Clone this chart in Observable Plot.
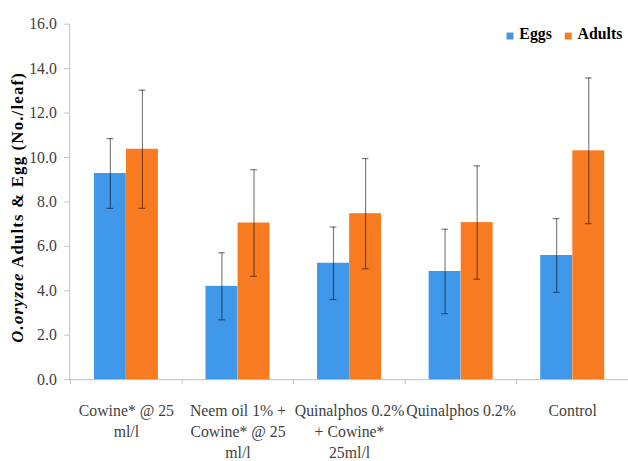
<!DOCTYPE html>
<html>
<head>
<meta charset="utf-8">
<script src="https://cdn.jsdelivr.net/npm/d3@7"></script>
<script src="https://cdn.jsdelivr.net/npm/@observablehq/plot@0.6"></script>
<style>
  html, body { margin: 0; padding: 0; background: #fff; }
  #wrap { width: 628px; height: 461px; overflow: hidden; position: relative; background: #fff; }
</style>
</head>
<body>
<div id="wrap"></div>
<script>
// ---- data ----
const categories = ["Cowine", "Neem+Cowine", "Quinalphos+Cowine", "Quinalphos", "Control"];
const tickLabels = [
  "Cowine* @ 25\nml/l",
  "Neem oil 1% +\nCowine* @ 25\nml/l",
  "Quinalphos 0.2%\n+ Cowine*\n25ml/l",
  "Quinalphos 0.2%",
  "Control"
];
const eggs      = [9.28, 4.2, 5.24, 4.87, 5.59];
const eggsErr   = [1.57, 1.51, 1.63, 1.9, 1.66];
const adults    = [10.37, 7.05, 7.47, 7.07, 10.3];
const adultsErr = [2.66, 2.4, 2.48, 2.55, 3.28];
const seriesNames = ["Eggs", "Adults"];
const yTicks = [0, 2, 4, 6, 8, 10, 12, 14, 16];

const rows = categories.map((c, i) => ({
  cat: c, label: tickLabels[i],
  eggs: eggs[i], eggsLo: eggs[i] - eggsErr[i], eggsHi: eggs[i] + eggsErr[i],
  adults: adults[i], adultsLo: adults[i] - adultsErr[i], adultsHi: adults[i] + adultsErr[i]
}));

// ---- layout ----
const W = 636, H = 461, mL = 70, mR = 0, mT = 24, mB = 77;
const step = (W - mL - mR) / categories.length;
const bw = 32.5;
const outer = (step - 2 * bw) / 2;
const capW = 7;
const capInset = (step - capW) / 2;
const blue = "#3F98EA", orange = "#F87B22", axisGray = "#BFBFBF", textCol = "#404040";
const errStyle = {stroke: "#000", strokeOpacity: 0.5, strokeWidth: 1.2};

const chart = Plot.plot({
  width: W, height: H,
  marginLeft: mL, marginRight: mR, marginTop: mT, marginBottom: mB,
  style: {fontFamily: "'Liberation Serif', 'Times New Roman', serif", fontSize: "16px", background: "#fff", overflow: "visible"},
  x: {domain: categories, padding: 0, axis: null},
  y: {domain: [0, 16], axis: null},
  marks: [
    Plot.frame({anchor: "left", stroke: axisGray}),
    Plot.ruleY([0], {stroke: axisGray}),
    Plot.axisY({ticks: yTicks, tickFormat: d3.format(".1f"), tickSize: 5, tickPadding: 8,
                stroke: axisGray, fill: textCol, label: null, fontSize: 16}),
    Plot.ruleX(rows, {x: "cat", dx: -step / 2, insetTop: H - mT - mB, insetBottom: -5, stroke: axisGray}),
    Plot.barY(rows, {x: "cat", y: "eggs", fill: blue, insetLeft: outer, insetRight: outer + bw}),
    Plot.barY(rows, {x: "cat", y: "adults", fill: orange, insetLeft: outer + bw, insetRight: outer}),
    Plot.ruleX(rows, {x: "cat", y1: "eggsLo", y2: "eggsHi", dx: -bw / 2, ...errStyle}),
    Plot.tickY(rows, {x: "cat", y: "eggsHi", dx: -bw / 2, insetLeft: capInset, insetRight: capInset, ...errStyle}),
    Plot.tickY(rows, {x: "cat", y: "eggsLo", dx: -bw / 2, insetLeft: capInset, insetRight: capInset, ...errStyle}),
    Plot.ruleX(rows, {x: "cat", y1: "adultsLo", y2: "adultsHi", dx: bw / 2, ...errStyle}),
    Plot.tickY(rows, {x: "cat", y: "adultsHi", dx: bw / 2, insetLeft: capInset, insetRight: capInset, ...errStyle}),
    Plot.tickY(rows, {x: "cat", y: "adultsLo", dx: bw / 2, insetLeft: capInset, insetRight: capInset, ...errStyle}),
    Plot.text(rows, {x: "cat", text: "label", frameAnchor: "bottom", lineAnchor: "top", dy: 21,
                     lineHeight: 1.35, fontSize: 16, fill: textCol})
  ]
});

document.getElementById("wrap").appendChild(chart);

// y-axis title with mixed italic
const svg = d3.select(chart);
const yl = svg.append("text")
  .attr("transform", `translate(19,${(mT + H - mB) / 2 + 6}) rotate(-90)`)
  .attr("text-anchor", "middle")
  .attr("dominant-baseline", "middle")
  .attr("font-weight", "bold")
  .attr("font-size", 17)
  .attr("letter-spacing", 1.2)
  .attr("fill", "#000");
yl.append("tspan").attr("font-style", "italic").text("O.oryzae");
yl.append("tspan").text(" Adults & Egg (No./leaf)");

// legend
const legend = [
  {name: seriesNames[0], color: blue, x: 513},
  {name: seriesNames[1], color: orange, x: 572}
];
const lg = svg.append("g").attr("font-weight", "bold").attr("font-size", 16).attr("fill", "#000")
  .attr("text-anchor", "start");
legend.forEach(d => {
  lg.append("rect").attr("x", d.x).attr("y", 33).attr("width", 7).attr("height", 7).attr("fill", d.color);
  lg.append("text").attr("x", d.x + 13).attr("y", 40).attr("text-anchor", "start").text(d.name);
});
</script>
</body>
</html>
